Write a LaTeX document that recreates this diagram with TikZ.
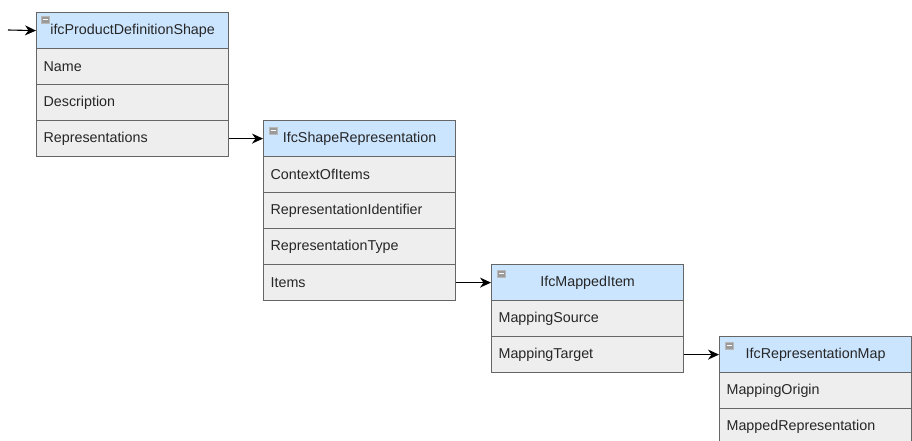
\documentclass[tikz,border=0pt]{standalone}
\usepackage{fontspec}
\setmainfont{Liberation Sans}
\usetikzlibrary{arrows.meta}
\definecolor{hdrc}{HTML}{CCE5FF}
\definecolor{rowc}{HTML}{EEEEEE}
\definecolor{bordc}{HTML}{666666}
\definecolor{txtc}{HTML}{262626}
\definecolor{iconc}{HTML}{9A9A9A}
\tikzset{
  cellbase/.style={draw=bordc, line width=1.2pt, anchor=north west, inner xsep=7pt, inner ysep=0pt,
    text width=178pt, minimum height=36pt, text=txtc, font=\fontsize{14.3}{17}\selectfont},
  hdr/.style={cellbase, fill=hdrc, align=center},
  rowcell/.style={cellbase, fill=rowc, align=left},
  icon/.style={draw=iconc!70, fill=iconc, line width=0.6pt, minimum width=8pt, minimum height=7pt,
    inner sep=0pt, anchor=north west,
    path picture={\draw[white, line width=1.2pt] ([xshift=1.5pt]path picture bounding box.west) -- ([xshift=-1.5pt]path picture bounding box.east);}},
  arr/.style={draw=black, line width=1.1pt, -{Stealth[length=11pt,width=10pt,inset=3.5pt]}},
  plain/.style={draw=black, line width=1pt}
}
\begin{document}
\begin{tikzpicture}[x=1pt,y=-1pt]
\useasboundingbox (0,0) rectangle (912,441);
\clip (0,0) rectangle (912,441);
% table 1
\node[hdr] (t1h) at (36,12) {ifcProductDefinitionShape};
\node[rowcell] (t1r1) at (36,48) {Name};
\node[rowcell] (t1r2) at (36,84) {Description};
\node[rowcell] (t1r3) at (36,120) {Representations};
\node[icon] (t1i) at ([xshift=5pt,yshift=-4pt]t1h.north west) {};
% table 2
\node[hdr] (t2h) at (263,120) {IfcShapeRepresentation};
\node[rowcell] (t2r1) at (263,156) {ContextOfItems};
\node[rowcell] (t2r2) at (263,192) {RepresentationIdentifier};
\node[rowcell] (t2r3) at (263,228) {RepresentationType};
\node[rowcell] (t2r4) at (263,264) {Items};
\node[icon] (t2i) at ([xshift=6pt,yshift=-7pt]t2h.north west) {};
% table 3
\node[hdr] (t3h) at (491,264) {IfcMappedItem};
\node[rowcell] (t3r1) at (491,300) {MappingSource};
\node[rowcell] (t3r2) at (491,336) {MappingTarget};
\node[icon] (t3i) at ([xshift=6pt,yshift=-6pt]t3h.north west) {};
% table 4
\node[hdr] (t4h) at (719,336) {IfcRepresentationMap};
\node[rowcell] (t4r1) at (719,372) {MappingOrigin};
\node[rowcell] (t4r2) at (719,408) {MappedRepresentation};
\node[icon] (t4i) at ([xshift=6pt,yshift=-6pt]t4h.north west) {};
% connectors
\coordinate (start) at (8,30);
\draw[arr] (start) -- (t1h.west);
\draw[arr] (t1r3.east) -- (t2h.west);
\draw[arr] (t2r4.east) -- (t3h.west);
\draw[arr] (t3r2.east) -- (t4h.west);
\coordinate (stub) at ([xshift=6pt]t4r2.east);
\draw[plain] (t4r2.east) -- (stub);
\end{tikzpicture}
\end{document}
